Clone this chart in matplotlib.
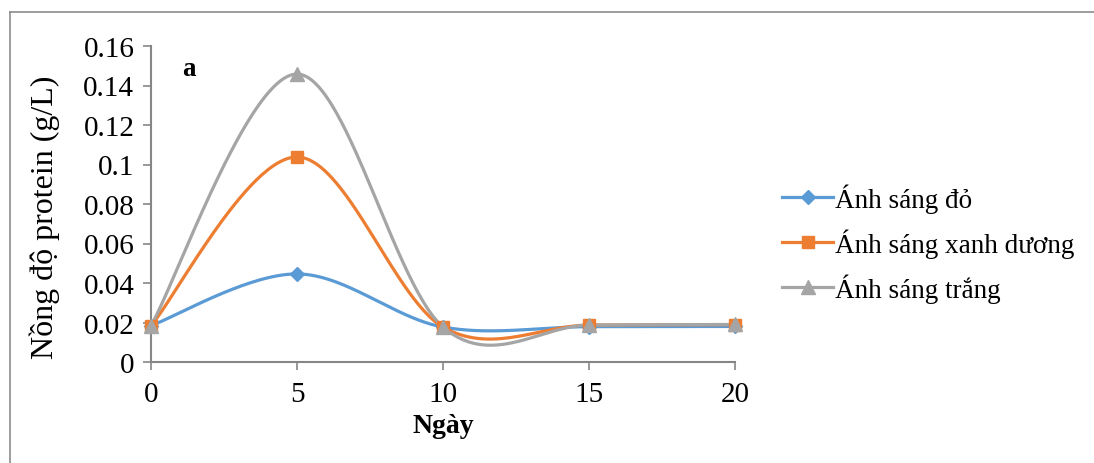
import numpy as np
import matplotlib.pyplot as plt
from matplotlib.lines import Line2D

# Du lieu doc tu hinh
ngay = [0, 5, 10, 15, 20]
do = [0.0184, 0.0446, 0.0177, 0.0179, 0.0180]
xanh_duong = [0.0184, 0.1038, 0.0177, 0.0187, 0.0189]
trang = [0.0184, 0.1458, 0.0177, 0.0187, 0.0190]
nhan = ['Ánh sáng đỏ', 'Ánh sáng xanh dương', 'Ánh sáng trắng']
mau = ['#5B9BD5', '#ED7D31', '#A5A5A5']
ky_hieu = ['D', 's', '^']
co_ky_hieu = [7, 9, 10]

plt.rcParams['font.family'] = ['Liberation Serif', 'DejaVu Serif']


def duong_cong(x, y, n=60):
    # Bezier kieu Catmull-Rom (giong duong lam tron cua Excel)
    p = np.column_stack([x, y]).astype(float)
    p_ext = np.vstack([p[0], p, p[-1]])
    xs, ys = [], []
    t = np.linspace(0, 1, n)[:, None]
    for i in range(len(p) - 1):
        p0, p1, p2, p3 = p_ext[i], p_ext[i + 1], p_ext[i + 2], p_ext[i + 3]
        c1 = p1 + (p2 - p0) / 6
        c2 = p2 - (p3 - p1) / 6
        b = ((1 - t) ** 3) * p1 + 3 * ((1 - t) ** 2) * t * c1 + 3 * (1 - t) * t ** 2 * c2 + t ** 3 * p2
        xs.append(b[:, 0])
        ys.append(b[:, 1])
    return np.concatenate(xs), np.concatenate(ys)


fig = plt.figure(figsize=(10.94, 4.64), dpi=100)
ax = fig.add_axes([151 / 1094, 1 - 363 / 464, (735 - 151) / 1094, (363 - 47) / 464])

handles = []
for y, c, m, ms, lab in zip([do, xanh_duong, trang], mau, ky_hieu, co_ky_hieu, nhan):
    cx, cy = duong_cong(ngay, y)
    ax.plot(cx, cy, color=c, lw=2.3, clip_on=False, zorder=3)
    ax.plot(ngay, y, ls='none', marker=m, ms=ms, color=c, clip_on=False, zorder=4)
    handles.append(Line2D([], [], color=c, lw=2.3, marker=m, ms=ms, label=lab))

ax.set_xlim(0, 20)
ax.set_ylim(0, 0.16)
ax.set_xticks([0, 5, 10, 15, 20])
ax.set_yticks([0, 0.02, 0.04, 0.06, 0.08, 0.1, 0.12, 0.14, 0.16])
ax.set_yticklabels(['0', '0.02', '0.04', '0.06', '0.08', '0.1', '0.12', '0.14', '0.16'])
ax.tick_params(labelsize=21, colors='#868686', labelcolor='black', length=6, width=1.2)
ax.tick_params(axis='x', pad=8)
ax.tick_params(axis='y', pad=6)
for s in ['top', 'right']:
    ax.spines[s].set_visible(False)
for s in ['left', 'bottom']:
    ax.spines[s].set_color('#868686')
    ax.spines[s].set_linewidth(1.5)

ax.set_xlabel('Ngày', fontsize=20, fontweight='bold', labelpad=4)
ax.set_ylabel('Nồng độ protein (g/L)', fontsize=23)
ax.yaxis.set_label_coords(-0.155, 0.46)
ax.text(0.053, 0.93, 'a', transform=ax.transAxes, fontsize=19.5, fontweight='bold', va='center')

fig.legend(handles=handles, loc='center left', bbox_to_anchor=(782 / 1094, 1 - 244 / 464),
           frameon=False, fontsize=19.5, handlelength=1.9, handletextpad=0.05,
           labelspacing=0.58, numpoints=1, borderaxespad=0, borderpad=0)

# khung xam quanh hinh
fig.add_artist(Line2D([10 / 1094, 1], [1 - 13 / 464, 1 - 13 / 464], transform=fig.transFigure, color='#8C8C8C', lw=1.2))
fig.add_artist(Line2D([10 / 1094, 10 / 1094], [0, 1 - 13 / 464], transform=fig.transFigure, color='#8C8C8C', lw=1.2))

fig.savefig('out.png', dpi=100)
